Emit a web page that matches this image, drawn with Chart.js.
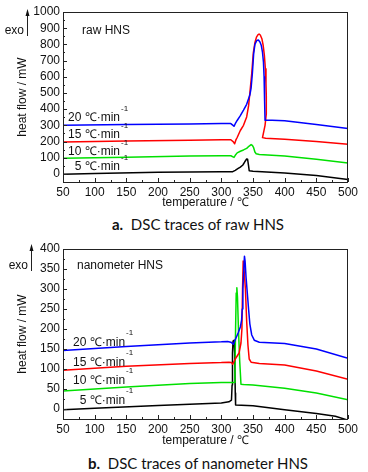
<!DOCTYPE html>
<html>
<head>
<meta charset="utf-8">
<script src="https://cdn.jsdelivr.net/npm/chart.js@4.4.1/dist/chart.umd.min.js"></script>
<style>
  body { margin: 0; background: #fff; width: 368px; height: 472px; overflow: hidden; position: relative; }
  canvas { position: absolute; left: 0; }
  .cap { position: absolute; left: 14px; width: 368px; text-align: center; font-family: Lato, "Open Sans", sans-serif; font-size: 15px; color: #111; }
</style>
</head>
<body>
<canvas id="rawChart" width="368" height="212" style="top:0"></canvas>
<div class="cap" style="top:215px"><b>a.</b>&nbsp; DSC traces of raw HNS</div>
<canvas id="nanoChart" width="368" height="214" style="top:236px"></canvas>
<div class="cap" style="top:454px"><b>b.</b>&nbsp; DSC traces of nanometer HNS</div>

<script>
// --- Date ---
const rateLabels = ['20', '15', '10', '5'];
const xTicks = [50, 100, 150, 200, 250, 300, 350, 400, 450, 500];
const rawYTicks = [0, 100, 200, 300, 400, 500, 600, 700, 800, 900, 1000];
const nanoYTicks = [0, 50, 100, 150, 200, 250, 300, 350, 400];

// raw HNS
const rawT20 = [50, 150, 250, 300, 315, 319, 320, 322, 325, 330, 335, 340, 345, 347, 349, 351, 353, 356, 358.5, 361, 363, 365, 366.5, 367.5, 368.3, 369, 380, 400, 450, 500];
const rawF20 = [301, 305, 309, 311, 311, 298, 294, 310, 330, 360, 394, 430, 487, 530, 620, 740, 800, 824, 827, 815, 795, 750, 690, 600, 450, 332, 331, 328, 305, 280];
const rawT15 = [50, 150, 250, 300, 315, 319, 321, 323, 325, 330, 335, 340, 343, 345, 348, 350.5, 353, 355.5, 358, 359.6, 361.5, 364, 366, 368, 369.5, 370.5, 371, 371, 369, 365, 370, 400, 450, 500];
const rawF15 = [197, 203, 208, 211, 211, 198, 186, 210, 225, 268, 300, 352, 420, 498, 620, 748, 810, 845, 860, 864, 858, 835, 795, 730, 650, 560, 480, 370, 300, 224, 220, 214, 200, 183];
const rawT10 = [50, 150, 250, 300, 315, 320, 322, 325, 330, 335, 340, 344, 347, 349, 351, 353, 355, 360, 400, 450, 500];
const rawF10 = [97, 103, 110, 112, 112, 102, 115, 130, 140, 148, 158, 172, 181, 176, 162, 135, 125, 120, 110, 90, 67];
const rawT5 = [50, 100, 200, 300, 318, 322, 326, 330, 334, 337, 340, 341.5, 343, 344, 350, 400, 450, 500];
const rawF5 = [-2, 3, 10, 13, 14, 22, 32, 42, 55, 75, 92, 90, 50, 20, 17, 6, -10, -35];

// nanometer HNS
const nanoT20 = [50, 150, 250, 300, 310, 315, 319, 323, 327, 330, 332, 333, 334, 335.5, 336.5, 337.5, 339, 341, 343, 345, 348, 352, 360, 400, 450, 500];
const nanoF20 = [146, 156, 165, 168, 169, 167, 162, 177, 192, 205, 222, 250, 300, 350, 382, 370, 330, 290, 250, 213, 185, 172, 167, 164, 150, 127];
const nanoT15 = [50, 150, 250, 300, 312, 316, 318, 322, 328, 331, 332.5, 333.5, 334.5, 336, 338, 340, 342, 344, 347, 360, 400, 450, 500];
const nanoF15 = [97, 107, 114, 116, 117, 116, 112, 125, 140, 165, 200, 300, 370, 345, 300, 220, 160, 125, 117, 114, 110, 95, 74];
const nanoT10 = [50, 150, 250, 300, 320, 321.5, 322.5, 323.5, 324.5, 325.5, 327, 329, 331, 335, 350, 400, 450, 500];
const nanoF10 = [45, 55, 64, 66, 66, 90, 200, 290, 303, 280, 200, 120, 62, 61, 60, 52, 40, 23];
const nanoT5 = [50, 100, 200, 300, 312, 316, 317, 317.6, 318.5, 320, 321, 322, 322.5, 350, 400, 450, 480, 500];
const nanoF5 = [-2, 2, 9, 15, 18, 22, 60, 140, 170, 172, 140, 40, 10, 8, -2, -11, -18, -28];

const colors = ['#0000ff', '#ff0000', '#00e000', '#000000'];
const fontFam = '"Liberation Sans", Arial, sans-serif';

function toPoints(ts, fs) {
    return ts.map((t, i) => ({ x: t, y: fs[i] }));
}

// Rama, tick-uri spre interior si textele din grafic
const framePlugin = {
    id: 'frame',
    afterDatasetsDraw(chart, args, opts) {
        const { ctx, chartArea: a, scales: { x, y } } = chart;
        ctx.save();
        ctx.strokeStyle = '#222';
        ctx.lineWidth = 1;
        ctx.strokeRect(a.left + 0.5, a.top + 0.5, a.right - a.left - 1, a.bottom - a.top);

        // tick-uri majore si minore
        ctx.beginPath();
        opts.xTicks.forEach((v, i) => {
            const px = Math.round(x.getPixelForValue(v)) + 0.5;
            ctx.moveTo(px, a.bottom); ctx.lineTo(px, a.bottom - 4);
            if (i < opts.xTicks.length - 1) {
                const mx = Math.round(x.getPixelForValue((v + opts.xTicks[i + 1]) / 2)) + 0.5;
                ctx.moveTo(mx, a.bottom); ctx.lineTo(mx, a.bottom - 2);
            }
        });
        opts.yTicks.forEach((v, i) => {
            const py = Math.round(y.getPixelForValue(v)) + 0.5;
            ctx.moveTo(a.left, py); ctx.lineTo(a.left + 4, py);
            if (i < opts.yTicks.length - 1) {
                const my = Math.round(y.getPixelForValue((v + opts.yTicks[i + 1]) / 2)) + 0.5;
                ctx.moveTo(a.left, my); ctx.lineTo(a.left + 2, my);
            }
        });
        ctx.stroke();

        // etichete viteze de incalzire
        ctx.fillStyle = '#111';
        rateLabels.forEach((r, i) => {
            const px = x.getPixelForValue(opts.labelX);
            const py = y.getPixelForValue(opts.labelY[i]);
            ctx.font = '12px ' + fontFam;
            ctx.textAlign = 'right';
            ctx.textBaseline = 'middle';
            ctx.fillText(r + ' \u2103\u00b7min', px, py);
            ctx.font = '8px ' + fontFam;
            ctx.textAlign = 'left';
            ctx.fillText('-1', px + 1, py - 9);
        });

        // titlul din grafic
        ctx.font = '12px ' + fontFam;
        ctx.textAlign = 'left';
        ctx.textBaseline = 'middle';
        ctx.fillText(opts.title, opts.titleX, opts.titleY);

        // "exo" cu sageata
        ctx.textAlign = 'right';
        ctx.fillText('exo', opts.exoX, opts.titleY);
        ctx.beginPath();
        ctx.moveTo(opts.exoX + 3.5, opts.titleY + 5);
        ctx.lineTo(opts.exoX + 3.5, opts.titleY - 17);
        ctx.stroke();
        ctx.beginPath();
        ctx.moveTo(opts.exoX + 3.5, opts.titleY - 22);
        ctx.lineTo(opts.exoX + 1.5, opts.titleY - 15);
        ctx.lineTo(opts.exoX + 5.5, opts.titleY - 15);
        ctx.closePath();
        ctx.fill();
        ctx.restore();
    }
};

function makeChart(canvas, series, yMin, yMax, yTicks, frameOpts, xHeight, yTitlePad) {
    return new Chart(canvas, {
        type: 'line',
        data: {
            datasets: series.map((s, i) => ({
                data: toPoints(s[0], s[1]),
                borderColor: colors[i],
                borderWidth: 1.5,
                pointRadius: 0,
                tension: 0,
                borderJoinStyle: 'round',
                fill: false
            }))
        },
        options: {
            responsive: false,
            animation: false,
            layout: { padding: { left: 0, right: 20, top: frameOpts.top, bottom: 0 } },
            plugins: {
                legend: { display: false },
                tooltip: { enabled: false },
                frame: frameOpts
            },
            scales: {
                x: {
                    type: 'linear',
                    min: 50, max: 500,
                    afterBuildTicks: sc => { sc.ticks = xTicks.map(v => ({ value: v })); },
                    afterFit: sc => { sc.height = xHeight; },
                    grid: { display: false, drawTicks: false },
                    border: { display: false },
                    ticks: { color: '#111', padding: 3, maxRotation: 0, autoSkip: false,
                             callback: v => String(v), font: { family: fontFam, size: 12 } },
                    title: {
                        display: true, text: 'temperature / \u2103', color: '#111',
                        padding: { top: 0, bottom: 2 }, font: { family: fontFam, size: 12 }
                    }
                },
                y: {
                    type: 'linear',
                    min: yMin, max: yMax,
                    afterBuildTicks: sc => { sc.ticks = yTicks.map(v => ({ value: v })); },
                    afterFit: sc => { sc.width = 63; },
                    grid: { display: false, drawTicks: false },
                    border: { display: false },
                    ticks: { color: '#111', padding: 3, autoSkip: false,
                             callback: v => String(v), font: { family: fontFam, size: 12 } },
                    title: {
                        display: true, text: 'heat flow / mW', color: '#111',
                        padding: { top: yTitlePad, bottom: 0 }, font: { family: fontFam, size: 12 }
                    }
                }
            }
        },
        plugins: [framePlugin]
    });
}

makeChart(document.getElementById('rawChart'),
    [[rawT20, rawF20], [rawT15, rawF15], [rawT10, rawF10], [rawT5, rawF5]],
    -50, 1000, rawYTicks,
    { top: 12, xTicks: xTicks, yTicks: rawYTicks, labelX: 140, labelY: [345, 240, 136, 43],
      title: 'raw HNS', titleX: 82, titleY: 31, exoX: 24 },
    30, 15);

makeChart(document.getElementById('nanoChart'),
    [[nanoT20, nanoF20], [nanoT15, nanoF15], [nanoT10, nanoF10], [nanoT5, nanoF5]],
    -25, 400, nanoYTicks,
    { top: 13, xTicks: xTicks, yTicks: nanoYTicks, labelX: 148, labelY: [167, 117, 72, 22],
      title: 'nanometer HNS', titleX: 77, titleY: 30, exoX: 28 },
    31, 15);
</script>
</body>
</html>
